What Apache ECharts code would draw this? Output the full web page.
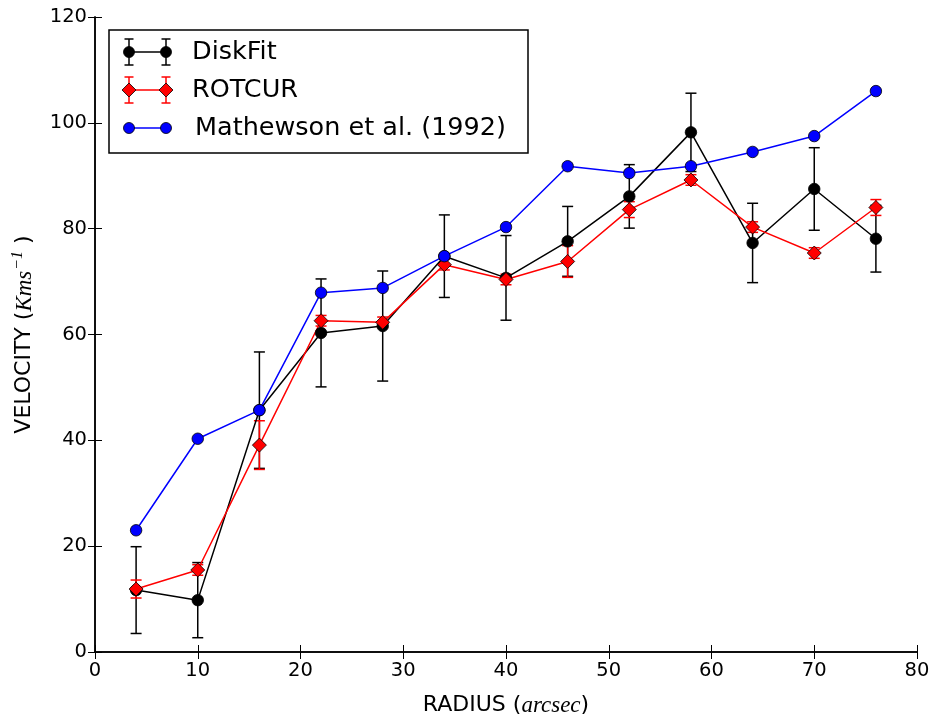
<!DOCTYPE html>
<html>
<head>
<meta charset="utf-8">
<script src="https://cdn.jsdelivr.net/npm/echarts@6/dist/echarts.min.js"></script>
<style>html,body{margin:0;padding:0;background:#fff}#c{width:933px;height:722px}</style>
</head>
<body>
<div id="c"></div>
<script>
var radius = [4, 10, 16, 22, 28, 34, 40, 46, 52, 58, 64, 70, 76];
var diskfitVel = [11.7, 9.8, 45.7, 60.3, 61.6, 74.8, 70.7, 77.6, 86.1, 98.2, 77.3, 87.5, 78.1];
var diskfitErr = [8.2, 7.1, 11.0, 10.2, 10.4, 7.8, 8.0, 6.6, 6.0, 7.4, 7.5, 7.8, 6.3];
var rotcurVel = [11.9, 15.5, 39.1, 62.6, 62.3, 73.2, 70.4, 73.8, 83.6, 89.2, 80.3, 75.4, 84.0];
var rotcurErr = [1.7, 1.0, 4.6, 1.0, 1.0, 1.0, 1.0, 3.0, 1.5, 1.0, 1.0, 1.0, 1.5];
var mathewsonVel = [23.0, 40.3, 45.7, 67.9, 68.8, 74.8, 80.3, 91.8, 90.5, 91.8, 94.5, 97.5, 106.0];
var xTicks = [0, 10, 20, 30, 40, 50, 60, 70, 80];
var yTicks = [0, 20, 40, 60, 80, 100, 120];
var legendNames = ['DiskFit', 'ROTCUR', 'Mathewson et al. (1992)'];

var FONT = 'DejaVu Sans';
function pairs(ys) { return radius.map(function (x, i) { return [x, ys[i]]; }); }
function errData(ys, es) { return radius.map(function (x, i) { return [x, ys[i], es[i]]; }); }

function errRender(color) {
  return function (params, api) {
    var x = api.value(0), y = api.value(1), e = api.value(2);
    var top = api.coord([x, y + e]);
    var bot = api.coord([x, y - e]);
    var hw = 5.5;
    var st = { stroke: color, lineWidth: 1.5 };
    return {
      type: 'group',
      children: [
        { type: 'line', shape: { x1: top[0], y1: top[1], x2: bot[0], y2: bot[1] }, style: st },
        { type: 'line', shape: { x1: top[0] - hw, y1: top[1], x2: top[0] + hw, y2: top[1] }, style: st },
        { type: 'line', shape: { x1: bot[0] - hw, y1: bot[1], x2: bot[0] + hw, y2: bot[1] }, style: st }
      ]
    };
  };
}

var axisCommon = {
  axisLine: { show: true, lineStyle: { color: '#000', width: 1.5 } },
  axisTick: { show: true, inside: true, length: 7, lineStyle: { color: '#000', width: 1 } },
  splitLine: { show: false }
};

var chart = echarts.init(document.getElementById('c'), null, { renderer: 'canvas' });

function legendGroup() {
  var lx1 = 129, lx2 = 166, tx = 192;
  var ys = [52, 90, 128];
  var ch = [];
  ch.push({ type: 'rect', shape: { x: 109, y: 30, width: 419, height: 123 }, style: { fill: '#fff', stroke: '#000', lineWidth: 1.5 } });
  function ebar(x, y, color) {
    var st = { stroke: color, lineWidth: 1.5 };
    ch.push({ type: 'line', shape: { x1: x, y1: y - 13, x2: x, y2: y + 13 }, style: st });
    ch.push({ type: 'line', shape: { x1: x - 4.5, y1: y - 13, x2: x + 4.5, y2: y - 13 }, style: st });
    ch.push({ type: 'line', shape: { x1: x - 4.5, y1: y + 13, x2: x + 4.5, y2: y + 13 }, style: st });
  }
  ebar(lx1, ys[0], '#000'); ebar(lx2, ys[0], '#000');
  ch.push({ type: 'line', shape: { x1: lx1, y1: ys[0], x2: lx2, y2: ys[0] }, style: { stroke: '#000', lineWidth: 1.5 } });
  [lx1, lx2].forEach(function (x) { ch.push({ type: 'circle', shape: { cx: x, cy: ys[0], r: 5.5 }, style: { fill: '#000', stroke: '#000', lineWidth: 0.8 } }); });
  ebar(lx1, ys[1], '#ff0000'); ebar(lx2, ys[1], '#ff0000');
  ch.push({ type: 'line', shape: { x1: lx1, y1: ys[1], x2: lx2, y2: ys[1] }, style: { stroke: '#ff0000', lineWidth: 1.5 } });
  [lx1, lx2].forEach(function (x) { ch.push({ type: 'polygon', shape: { points: [[x, ys[1] - 7], [x + 7, ys[1]], [x, ys[1] + 7], [x - 7, ys[1]]] }, style: { fill: '#ff0000', stroke: '#000', lineWidth: 0.8 } }); });
  ch.push({ type: 'line', shape: { x1: lx1, y1: ys[2], x2: lx2, y2: ys[2] }, style: { stroke: '#0000ff', lineWidth: 1.5 } });
  [lx1, lx2].forEach(function (x) { ch.push({ type: 'circle', shape: { cx: x, cy: ys[2], r: 5.5 }, style: { fill: '#0000ff', stroke: '#000', lineWidth: 0.8 } }); });
  legendNames.forEach(function (n, i) {
    ch.push({ type: 'text', x: tx + (i === 2 ? 3 : 0), y: ys[i], style: { text: n, fill: '#000', font: '25.5px "DejaVu Sans"', textVerticalAlign: 'middle', verticalAlign: 'middle' } });
  });
  return { type: 'group', z: 100, children: ch };
}

var option = {
  backgroundColor: '#fff',
  animation: false,
  textStyle: { fontFamily: FONT },
  grid: { left: 95, right: 16, top: 17, bottom: 69, containLabel: false },
  xAxis: [
    Object.assign({}, axisCommon, {
      type: 'value', min: 0, max: 80, interval: 10, position: 'bottom',
      axisLabel: { color: '#000', fontSize: 19.5, fontFamily: FONT, margin: 9, formatter: function (v) { return xTicks.indexOf(v) >= 0 ? String(v) : ''; } },
      name: '{n|RADIUS (}{i|arcsec}{n|)}',
      nameLocation: 'middle', nameGap: 42,
      nameTextStyle: { rich: { n: { fontSize: 22, fontFamily: FONT, color: '#000' }, i: { fontSize: 23, fontFamily: 'Liberation Serif', fontStyle: 'italic', color: '#000' } } }
    }),
    Object.assign({}, axisCommon, {
      type: 'value', min: 0, max: 80, interval: 10, position: 'top',
      axisLabel: { show: false }
    })
  ],
  yAxis: [
    Object.assign({}, axisCommon, {
      type: 'value', min: 0, max: 120, interval: 20, position: 'left',
      axisLabel: { color: '#000', fontSize: 19.5, fontFamily: FONT, margin: 8, formatter: function (v) { return yTicks.indexOf(v) >= 0 ? String(v) : ''; } },
      name: '{n|VELOCITY (}{i|Kms}{s|−1}{n| )}',
      nameLocation: 'middle', nameGap: 56, nameRotate: 90,
      nameTextStyle: { rich: {
        n: { fontSize: 22, fontFamily: FONT, color: '#000' },
        i: { fontSize: 23, fontFamily: 'Liberation Serif', fontStyle: 'italic', color: '#000' },
        s: { fontSize: 16, fontFamily: 'Liberation Serif', fontStyle: 'italic', color: '#000', padding: [0, 0, 13, 1] }
      } }
    }),
    Object.assign({}, axisCommon, {
      type: 'value', min: 0, max: 120, interval: 20, position: 'right',
      axisLabel: { show: false }
    })
  ],
  series: [
    { name: 'DiskFit err', type: 'custom', renderItem: errRender('#000'), data: errData(diskfitVel, diskfitErr), silent: true },
    { name: 'DiskFit', type: 'line', data: pairs(diskfitVel), symbol: 'circle', symbolSize: 11.5,
      lineStyle: { color: '#000', width: 1.5 }, itemStyle: { color: '#000', borderColor: '#000', borderWidth: 0.8 } },
    { name: 'ROTCUR err', type: 'custom', renderItem: errRender('#ff0000'), data: errData(rotcurVel, rotcurErr), silent: true },
    { name: 'ROTCUR', type: 'line', data: pairs(rotcurVel), symbol: 'diamond', symbolSize: 14,
      lineStyle: { color: '#ff0000', width: 1.5 }, itemStyle: { color: '#ff0000', borderColor: '#000', borderWidth: 0.8 } },
    { name: 'Mathewson et al. (1992)', type: 'line', data: pairs(mathewsonVel), symbol: 'circle', symbolSize: 11.5,
      lineStyle: { color: '#0000ff', width: 1.5 }, itemStyle: { color: '#0000ff', borderColor: '#000', borderWidth: 0.8 } }
  ],
  graphic: [legendGroup()]
};
chart.setOption(option);
</script>
</body>
</html>
